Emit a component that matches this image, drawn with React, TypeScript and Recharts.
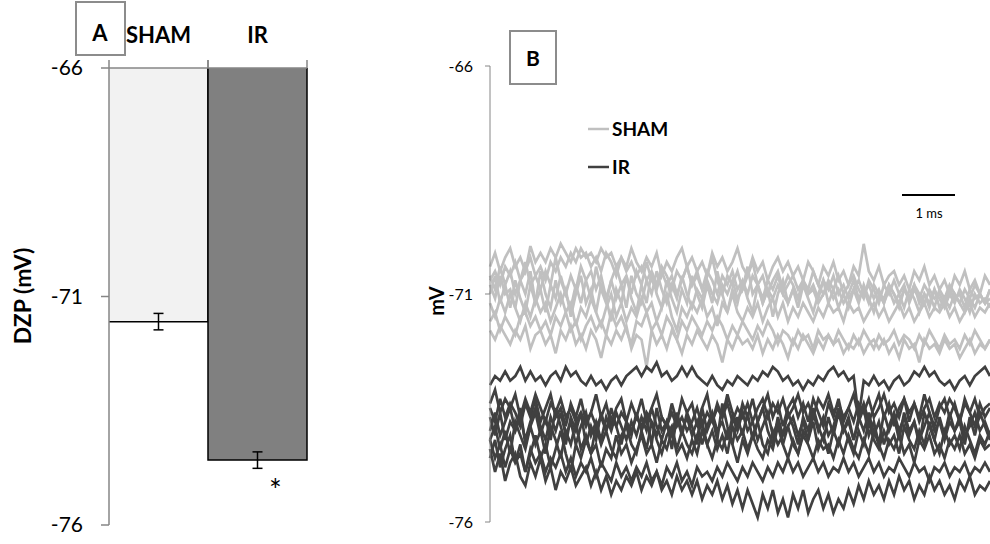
import React from "react";
import { BarChart, Bar, XAxis, YAxis, ErrorBar, LabelList, LineChart, Line } from "recharts";

// panel A: resting potential, bars hang from -66
const GROUPS = ["SHAM", "IR"];
const DZP_MEAN = [-71.55, -74.58];
const DZP_SEM = [0.18, 0.18];
const DZP_TICKS = [-76, -71, -66];

// panel B: superimposed membrane traces (mV), one sample every ~5 px
const SHAM_1 = [
  -70.4, -70.1, -70.5, -70.2, -70.0, -70.4, -70.2, -70.5, -69.95, -70.3,
  -70.1, -70.3, -70.0, -70.2, -69.9, -70.1, -70.3, -70.0, -70.2, -70.1,
  -70.4, -70.2, -70.5, -70.1, -70.3, -70.6, -70.2, -70.4, -70.0, -70.3,
  -70.5, -70.2, -70.4, -70.1, -70.6, -70.3, -70.5, -70.2, -70.0, -70.4,
  -70.2, -70.5, -70.3, -70.6, -70.1, -70.4, -70.2, -70.5, -70.3, -70.0,
  -70.4, -70.6, -70.2, -70.5, -70.3, -70.7, -70.4, -70.2, -70.5, -70.3,
  -70.6, -70.4, -70.7, -70.3, -70.5, -70.8, -70.4, -70.6, -70.3, -70.7,
  -70.5, -70.8, -70.4, -70.6, -69.9, -70.5, -70.7, -70.4, -70.8, -70.6,
  -70.5, -70.8, -70.6, -70.9, -70.5, -70.7, -70.4, -70.8, -70.6, -70.9,
  -70.7, -71.0, -70.6, -70.8, -70.5, -70.9, -70.7, -71.0, -70.6, -70.8,
];
const SHAM_2 = [
  -70.6, -70.9, -70.4, -70.8, -70.5, -71.0, -70.7, -70.3, -70.8, -70.6,
  -70.9, -70.5, -70.8, -70.2, -70.7, -71.0, -70.6, -70.9, -70.4, -70.7,
  -70.5, -70.9, -70.6, -71.1, -70.7, -70.4, -70.8, -70.6, -71.0, -70.5,
  -70.8, -70.3, -70.7, -70.9, -70.5, -70.8, -70.6, -71.0, -70.7, -70.4,
  -70.8, -70.5, -70.9, -70.6, -70.2, -70.7, -71.0, -70.6, -70.8, -70.5,
  -70.9, -70.6, -70.3, -70.8, -70.6, -71.0, -70.7, -70.5, -70.9, -70.6,
  -70.8, -71.1, -70.7, -70.9, -70.5, -70.8, -71.0, -70.7, -70.9, -70.6,
  -71.0, -70.8, -70.6, -70.9, -71.1, -70.7, -70.9, -71.2, -70.8, -71.0,
  -70.7, -71.0, -70.8, -71.2, -70.9, -71.1, -70.8, -71.0, -71.3, -70.9,
  -71.1, -70.8, -71.0, -71.2, -70.9, -71.1, -70.8, -71.0, -71.2, -70.9,
];
const SHAM_3 = [
  -71.0, -70.6, -71.2, -70.8, -71.3, -70.7, -71.1, -71.4, -70.8, -71.2,
  -70.5, -71.0, -71.3, -70.7, -71.2, -70.9, -71.5, -71.0, -70.6, -71.2,
  -70.9, -71.4, -70.8, -71.1, -71.6, -70.9, -71.2, -70.6, -71.1, -71.4,
  -70.8, -71.2, -70.5, -71.0, -71.3, -70.7, -71.1, -71.4, -70.9, -71.2,
  -70.6, -71.0, -71.3, -70.8, -71.2, -70.5, -71.0, -71.4, -70.9, -71.2,
  -70.7, -71.1, -71.4, -70.8, -71.2, -70.9, -71.5, -71.0, -70.7, -71.2,
  -70.9, -71.3, -70.8, -71.1, -71.4, -71.0, -70.7, -71.2, -70.9, -71.3,
  -71.0, -71.3, -70.9, -71.2, -70.8, -71.1, -71.4, -71.0, -71.2, -70.9,
  -71.2, -71.0, -71.3, -70.9, -71.1, -71.4, -71.0, -71.2, -70.9, -71.3,
  -71.1, -71.3, -71.0, -71.2, -71.4, -71.1, -71.3, -71.0, -71.2, -71.1,
];
const SHAM_4 = [
  -71.2, -71.5, -71.1, -71.4, -71.0, -71.3, -71.6, -71.2, -71.5, -71.1,
  -71.4, -71.2, -71.6, -71.3, -71.0, -71.4, -71.2, -71.7, -71.3, -71.5,
  -71.1, -71.4, -71.7, -71.3, -71.0, -71.5, -71.2, -71.6, -71.3, -71.5,
  -71.1, -71.4, -71.2, -71.6, -71.3, -71.0, -71.5, -71.8, -71.3, -71.5,
  -71.2, -71.4, -71.1, -71.5, -71.3, -71.7, -71.2, -71.4, -71.0, -71.4,
  -71.6, -71.3, -71.5, -71.2, -71.6, -71.3, -71.1, -71.5, -71.2, -71.6,
  -71.3, -71.5, -71.2, -71.4, -71.6, -71.3, -71.5, -71.2, -71.4, -71.3,
  -71.6, -71.2, -71.4, -71.3, -71.6, -71.4, -71.2, -71.5, -71.3, -71.6,
  -71.4, -71.2, -71.5, -71.3, -71.6, -71.4, -71.2, -71.5, -71.3, -71.4,
  -71.2, -71.5, -71.3, -71.6, -71.4, -71.2, -71.5, -71.3, -71.4, -71.2,
];
const SHAM_5 = [
  -71.6, -71.4, -71.8, -71.5, -71.7, -71.9, -71.5, -71.4, -71.7, -71.5,
  -71.8, -71.6, -71.9, -71.5, -71.7, -71.4, -71.8, -71.6, -72.0, -71.7,
  -71.5, -71.8, -71.6, -71.9, -71.4, -71.7, -71.5, -71.8, -72.1, -71.6,
  -71.7, -71.4, -71.8, -71.6, -71.9, -71.5, -71.7, -72.0, -71.6, -71.8,
  -71.5, -71.7, -71.9, -71.6, -71.8, -71.5, -71.7, -72.0, -71.7, -71.9,
  -71.6, -71.8, -72.0, -71.7, -71.9, -71.6, -71.8, -72.1, -71.8, -71.9,
  -72.1, -71.8, -72.0, -71.9, -72.2, -71.8, -72.0, -71.9, -72.1, -71.8,
  -72.0, -72.2, -71.9, -72.1, -71.8, -72.0, -72.2, -71.9, -72.1, -72.0,
  -71.8, -72.1, -71.9, -72.0, -72.2, -71.9, -72.1, -71.8, -72.0, -72.2,
  -71.9, -72.1, -72.0, -72.2, -71.9, -72.1, -71.8, -72.0, -72.2, -72.0,
];
const SHAM_6 = [
  -71.8, -72.0, -71.7, -71.9, -72.1, -71.8, -72.0, -71.7, -72.2, -71.9,
  -71.8, -72.1, -71.9, -72.3, -71.8, -72.0, -71.7, -72.1, -71.9, -72.2,
  -71.8, -72.0, -72.4, -71.9, -72.1, -71.8, -72.0, -71.7, -72.2, -71.9,
  -72.0, -72.6, -71.8, -72.1, -71.9, -72.2, -71.8, -72.0, -72.3, -71.9,
  -72.1, -71.8, -72.0, -72.2, -71.9, -72.1, -72.5, -72.0, -72.2, -71.9,
  -72.1, -72.0, -72.2, -71.9, -72.3, -72.0, -72.2, -71.9, -72.1, -72.4,
  -72.0, -72.2, -71.9, -72.1, -72.3, -72.0, -72.2, -71.9, -72.1, -72.0,
  -72.3, -72.1, -72.2, -72.0, -72.3, -72.1, -72.0, -72.2, -72.0, -72.3,
  -72.1, -72.4, -72.0, -72.2, -72.1, -72.5, -72.0, -72.2, -72.1, -72.3,
  -72.0, -72.2, -72.1, -72.4, -72.2, -72.0, -72.3, -72.1, -72.2, -72.0,
];
const SHAM_7 = [
  -70.8, -71.1, -70.6, -71.0, -70.9, -71.3, -70.7, -71.0, -70.5, -71.2,
  -70.9, -71.4, -70.8, -71.1, -70.6, -71.0, -71.3, -70.8, -71.2, -70.7,
  -71.1, -70.4, -70.9, -71.2, -70.7, -71.1, -70.8, -71.3, -70.6, -71.0,
  -71.2, -70.7, -71.0, -70.5, -70.9, -71.2, -70.8, -71.1, -70.6, -71.0,
  -71.3, -70.9, -71.1, -70.7, -71.0, -71.2, -70.8, -71.0, -70.7, -71.1,
  -70.9, -70.4, -71.0, -70.8, -71.2, -70.9, -71.1, -70.8, -71.0, -71.2,
  -70.9, -71.1, -70.8, -71.0, -70.9, -71.2, -71.0, -70.8, -71.1, -70.9,
  -71.2, -71.0, -70.7, -71.1, -70.9, -71.2, -70.8, -71.0, -71.1, -70.8,
  -71.0, -71.2, -70.9, -71.1, -70.8, -71.0, -71.2, -70.9, -71.1, -71.0,
  -71.2, -70.9, -71.1, -71.0, -71.3, -70.9, -71.1, -71.0, -71.2, -70.9,
];
const SHAM_8 = [
  -70.7, -70.5, -70.8, -70.4, -70.6, -70.3, -70.7, -70.5, -70.2, -70.6,
  -70.4, -70.7, -70.3, -70.5, -70.2, -70.4, -70.1, -70.3, -70.0, -70.2,
  -70.1, -70.3, -70.0, -70.2, -70.1, -70.4, -70.2, -70.5, -70.3, -70.6,
  -70.4, -70.7, -70.5, -70.8, -70.4, -70.6, -70.9, -70.5, -70.7, -70.4,
  -70.8, -70.6, -70.9, -70.5, -70.7, -71.0, -70.6, -70.8, -70.5, -70.9,
  -70.7, -71.0, -70.6, -70.8, -71.1, -70.7, -70.9, -70.6, -71.0, -70.8,
  -70.6, -70.9, -70.7, -71.0, -70.8, -71.1, -70.7, -70.9, -70.6, -71.0,
  -70.8, -71.1, -70.9, -70.7, -71.0, -70.8, -71.1, -70.9, -71.2, -70.8,
  -71.0, -71.3, -70.9, -71.1, -70.8, -71.2, -71.0, -71.3, -70.9, -71.1,
  -71.3, -71.0, -71.2, -70.9, -71.1, -71.4, -71.0, -71.2, -71.1, -71.3,
];

const IR_1 = [
  -73.0, -72.8, -72.9, -72.7, -72.9, -72.8, -72.6, -72.9, -72.7, -72.9,
  -72.8, -73.0, -72.8, -72.7, -72.9, -72.6, -72.8, -72.7, -72.9, -73.0,
  -72.8, -73.0, -72.9, -73.1, -72.9, -72.8, -73.0, -72.8, -72.7, -72.6,
  -72.8, -72.6, -72.7, -72.5, -72.8, -72.7, -72.9, -72.8, -72.6, -72.8,
  -72.6, -72.8, -72.9, -73.0, -72.8, -73.0, -73.1, -72.9, -73.0, -72.8,
  -72.9, -73.0, -72.8, -72.9, -72.7, -72.8, -72.6, -72.7, -72.9, -72.8,
  -73.0, -72.9, -73.1, -72.9, -73.0, -72.8, -72.9, -72.7, -72.6, -72.8,
  -72.7, -72.9, -72.8, -73.7, -72.9, -73.0, -72.8, -73.0, -72.9, -73.1,
  -72.9, -72.8, -73.0, -72.9, -72.7, -72.8, -72.6, -72.8, -72.7, -72.9,
  -73.0, -72.9, -73.1, -72.9, -72.8, -73.0, -72.8, -72.7, -72.6, -72.8,
];
const IR_2 = [
  -73.5, -73.8, -73.3, -73.7, -73.4, -73.6, -73.9, -73.4, -73.7, -73.3,
  -73.8, -73.5, -73.2, -73.7, -73.5, -73.9, -73.4, -73.7, -73.3, -73.8,
  -73.6, -73.2, -73.7, -73.4, -73.9, -73.5, -73.3, -73.8, -73.4, -73.7,
  -73.3, -73.8, -73.5, -73.2, -73.7, -73.9, -73.4, -73.8, -73.3, -73.6,
  -73.4, -73.9, -73.5, -73.2, -73.8, -73.4, -73.7, -73.2, -73.6, -73.9,
  -73.4, -73.7, -73.3, -73.8, -73.5, -73.2, -73.7, -73.4, -73.9, -73.5,
  -73.3, -73.7, -73.4, -73.8, -73.3, -73.6, -73.9, -73.4, -73.7, -73.3,
  -73.8, -73.5, -73.2, -73.7, -73.4, -73.8, -73.5, -73.2, -73.7, -73.4,
  -73.9, -73.5, -73.3, -73.8, -73.4, -73.7, -73.2, -73.6, -73.9, -73.5,
  -73.3, -73.7, -73.4, -73.8, -73.3, -73.6, -73.9, -73.4, -73.7, -73.5,
];
const IR_3 = [
  -73.7, -74.1, -73.6, -74.2, -73.8, -74.0, -73.5, -74.3, -73.9, -73.6,
  -74.1, -73.7, -74.2, -73.5, -73.9, -74.3, -73.7, -74.0, -73.6, -74.3,
  -73.9, -74.2, -73.6, -74.0, -73.5, -73.9, -74.3, -73.8, -74.1, -73.6,
  -74.0, -73.7, -74.3, -73.5, -74.0, -73.8, -74.4, -73.7, -74.1, -73.6,
  -73.9, -74.3, -73.5, -74.0, -73.7, -74.2, -73.4, -73.9, -74.3, -73.7,
  -74.1, -73.6, -74.2, -73.8, -73.5, -74.0, -74.3, -73.7, -74.1, -73.6,
  -73.9, -74.3, -73.7, -74.0, -73.5, -73.9, -74.2, -73.7, -74.1, -73.6,
  -74.0, -73.7, -74.2, -73.8, -73.5, -74.1, -73.8, -74.3, -73.6, -74.0,
  -73.7, -74.2, -73.6, -74.0, -73.8, -74.3, -73.6, -73.9, -74.2, -73.7,
  -74.1, -73.6, -74.0, -73.8, -74.3, -73.7, -74.1, -73.6, -73.9, -74.2,
];
const IR_4 = [
  -74.2, -73.9, -74.4, -74.0, -74.5, -73.8, -74.1, -74.4, -73.9, -74.3,
  -74.0, -74.5, -73.9, -74.2, -74.6, -74.0, -74.3, -73.8, -74.4, -74.1,
  -74.5, -73.9, -74.3, -74.0, -74.4, -74.6, -74.1, -73.9, -74.3, -74.5,
  -74.0, -74.4, -73.8, -74.2, -74.5, -74.1, -73.9, -74.4, -74.0, -74.3,
  -74.5, -74.1, -73.8, -74.3, -74.0, -74.4, -74.1, -74.5, -73.9, -74.2,
  -74.0, -74.4, -74.1, -73.8, -74.3, -74.5, -74.0, -74.3, -74.1, -73.9,
  -74.3, -74.5, -74.0, -74.2, -73.8, -74.4, -74.1, -74.5, -74.0, -74.3,
  -73.9, -74.2, -74.5, -74.0, -74.3, -73.8, -74.2, -74.4, -74.0, -74.3,
  -74.1, -74.5, -73.9, -74.2, -74.4, -74.0, -74.3, -73.8, -74.2, -74.5,
  -74.0, -74.3, -74.1, -74.4, -73.9, -74.2, -74.5, -74.1, -74.3, -74.0,
];
const IR_5 = [
  -74.6, -74.2, -74.8, -74.4, -74.1, -74.7, -74.3, -74.9, -74.5, -74.1,
  -74.6, -74.3, -74.8, -74.4, -74.0, -74.5, -74.9, -74.3, -74.6, -74.2,
  -74.5, -74.3, -74.8, -74.4, -74.6, -74.1, -74.5, -74.3, -74.7, -74.4,
  -74.1, -74.5, -74.3, -74.7, -74.2, -74.4, -74.0, -74.5, -74.3, -74.6,
  -74.2, -74.5, -74.0, -74.3, -74.6, -74.2, -74.4, -74.0, -74.3, -74.7,
  -74.2, -74.5, -74.1, -74.4, -74.6, -74.2, -74.4, -73.9, -74.3, -74.6,
  -74.2, -74.5, -74.1, -74.3, -74.6, -74.2, -74.4, -74.3, -74.6, -74.2,
  -74.5, -74.1, -74.4, -74.6, -74.2, -74.5, -74.0, -74.3, -74.6, -74.2,
  -74.4, -74.1, -74.5, -74.3, -74.7, -74.2, -74.4, -74.1, -74.5, -74.3,
  -74.6, -74.2, -74.4, -74.1, -74.5, -74.3, -74.6, -74.2, -74.4, -74.3,
];
const IR_6 = [
  -73.4, -73.1, -73.6, -73.3, -73.5, -73.2, -73.7, -73.3, -73.6, -73.2,
  -73.5, -73.8, -73.4, -73.6, -73.3, -73.7, -73.5, -73.8, -73.6, -73.9,
  -73.6, -73.9, -73.7, -74.0, -73.7, -73.9, -73.6, -73.8, -74.0, -73.7,
  -73.9, -73.6, -73.8, -74.1, -73.7, -73.9, -73.6, -73.9, -73.7, -74.0,
  -73.8, -73.5, -73.9, -73.6, -73.8, -73.5, -73.7, -73.4, -73.8, -73.5,
  -73.7, -73.4, -73.8, -73.5, -73.3, -73.7, -73.4, -73.6, -73.3, -73.7,
  -73.5, -73.2, -73.6, -73.4, -73.7, -73.3, -73.5, -73.2, -73.6, -73.4,
  -73.7, -73.5, -73.8, -73.4, -73.6, -73.3, -73.7, -73.5, -73.2, -73.6,
  -73.4, -73.7, -73.3, -73.6, -73.4, -73.8, -73.5, -73.3, -73.7, -73.4,
  -73.6, -73.3, -73.5, -73.8, -73.4, -73.6, -73.3, -73.7, -73.5, -73.4,
];
const IR_7 = [
  -74.2, -74.6, -74.3, -74.8, -74.4, -74.7, -74.5, -74.9, -74.4, -74.7,
  -74.5, -74.9, -74.6, -74.8, -74.5, -74.9, -74.6, -75.0, -74.7, -74.9,
  -74.6, -75.0, -74.7, -74.9, -75.1, -74.7, -75.0, -74.8, -75.1, -74.8,
  -75.0, -74.7, -75.1, -74.9, -75.2, -74.8, -75.0, -74.7, -75.1, -74.9,
  -75.2, -74.8, -75.0, -74.9, -75.1, -74.8, -75.0, -74.7, -74.9, -75.1,
  -74.8, -75.0, -74.7, -74.9, -75.1, -74.8, -75.0, -74.7, -74.9, -74.6,
  -74.9, -74.7, -75.0, -74.8, -74.6, -74.9, -74.7, -75.0, -74.8, -74.9,
  -74.6, -74.9, -74.7, -75.0, -74.8, -74.6, -74.9, -74.7, -75.0, -74.8,
  -74.9, -74.6, -74.8, -75.0, -74.7, -74.9, -74.8, -75.1, -74.8, -74.9,
  -74.7, -75.0, -74.8, -74.9, -74.7, -75.0, -74.8, -74.9, -74.7, -74.9,
];
const IR_8 = [
  -74.4, -74.9, -74.5, -75.1, -74.7, -74.5, -75.0, -75.2, -74.7, -75.0,
  -74.6, -75.1, -74.8, -75.3, -74.9, -75.1, -74.8, -75.2, -75.0, -74.8,
  -75.2, -74.9, -75.3, -75.0, -75.4, -75.1, -75.3, -75.0, -75.2, -74.9,
  -75.3, -75.0, -75.2, -74.9, -75.3, -75.1, -75.4, -75.0, -75.3, -75.1,
  -75.4, -75.1, -75.5, -75.2, -75.4, -75.1, -75.5, -75.2, -75.6, -75.3,
  -75.7, -75.3, -75.6, -75.9, -75.4, -75.7, -75.3, -75.8, -75.5, -75.9,
  -75.4, -75.7, -75.3, -75.8, -75.5, -75.3, -75.7, -75.4, -75.8, -75.5,
  -75.7, -75.3, -75.6, -75.2, -75.5, -75.1, -75.4, -75.2, -75.5, -75.1,
  -75.4, -75.0, -75.3, -75.1, -75.5, -75.2, -75.4, -75.0, -75.3, -75.1,
  -75.4, -75.2, -75.5, -75.1, -75.3, -75.0, -75.4, -75.2, -75.3, -75.1,
];
const IR_9 = [
  -74.0, -73.6, -74.1, -73.8, -73.5, -74.0, -73.7, -74.2, -73.8, -73.5,
  -73.9, -74.2, -73.7, -74.0, -73.6, -74.1, -73.8, -74.3, -73.9, -73.6,
  -74.1, -73.8, -74.2, -73.7, -74.0, -73.6, -73.9, -74.2, -73.8, -74.1,
  -73.7, -74.0, -73.5, -73.9, -74.2, -73.8, -74.1, -73.6, -74.0, -73.7,
  -74.1, -73.8, -74.3, -73.9, -73.6, -74.0, -73.8, -74.2, -73.7, -74.0,
  -73.6, -74.0, -73.8, -74.2, -73.9, -73.6, -74.1, -73.8, -74.3, -73.9,
  -73.7, -74.1, -73.8, -74.2, -73.6, -74.0, -73.7, -74.1, -73.9, -73.5,
  -74.0, -73.8, -74.2, -73.7, -74.0, -73.6, -74.1, -73.8, -74.3, -73.9,
  -73.6, -74.0, -73.7, -74.1, -73.8, -74.2, -73.9, -73.6, -74.0, -73.8,
  -74.2, -73.8, -74.0, -73.7, -74.1, -73.9, -73.6, -74.0, -73.8, -74.1,
];

const SHAM_TRACES = [SHAM_1, SHAM_2, SHAM_3, SHAM_4, SHAM_5, SHAM_6, SHAM_7, SHAM_8];
const IR_TRACES = [IR_1, IR_2, IR_3, IR_4, IR_5, IR_6, IR_7, IR_8, IR_9];
const TRACE_TICKS = [-76, -71, -66];

const SHAM_COLOR = "#c0c0c0";
const IR_COLOR = "#404040";
const AXIS_COLOR = "#868686";
const FONT = "Lato, 'Open Sans', sans-serif";
const BAND = 99;
const AXIS_TOP = 68;

const barData = GROUPS.map((g, i) => ({ name: g, value: DZP_MEAN[i], err: DZP_SEM[i] }));
const BAR_FILLS = ["#f2f2f2", "#808080"];

const traceData = SHAM_1.map((_, i) => {
  const row: Record<string, number> = { t: i };
  SHAM_TRACES.forEach((tr, k) => (row[`s${k}`] = tr[i]));
  IR_TRACES.forEach((tr, k) => (row[`r${k}`] = tr[i]));
  return row;
});

// category label above the axis + Excel-style marks on the band edges
function GroupTick({ x, payload }: any) {
  return (
    <g>
      <text x={x} y={43} textAnchor="middle" fontFamily={FONT} fontWeight={700} fontSize={22} fill="#000">
        {payload.value}
      </text>
      <line x1={x - BAND / 2} x2={x - BAND / 2} y1={AXIS_TOP - 8} y2={AXIS_TOP} stroke={AXIS_COLOR} strokeWidth={1.5} />
      <line x1={x + BAND / 2} x2={x + BAND / 2} y1={AXIS_TOP - 8} y2={AXIS_TOP} stroke={AXIS_COLOR} strokeWidth={1.5} />
    </g>
  );
}

function HangingBar(props: any) {
  const { x, y, width, height, index } = props;
  const top = Math.min(y, y + height);
  const bottom = Math.max(y, y + height);
  const left = x;
  const right = x + width;
  const edge = index === 0
    ? `M${right},${top} V${bottom} H${left}`
    : `M${left},${top} V${bottom} H${right} V${top}`;
  return (
    <g>
      <rect x={left} y={top} width={width} height={bottom - top} fill={BAR_FILLS[index]} />
      <path d={edge} fill="none" stroke="#000" strokeWidth={1.5} />
    </g>
  );
}

function StarLabel(props: any) {
  const { x, y, width, height, index } = props;
  if (index !== 1) return null;
  const bottom = Math.max(y, y + height);
  return (
    <text x={x + width * 0.68} y={bottom + 41} textAnchor="middle" fontFamily={FONT} fontSize={30} fill="#000">
      *
    </text>
  );
}

export default function App() {
  const tickA = { fontSize: 21, fill: "#000", fontFamily: FONT };
  const tickB = { fontSize: 16, fill: "#000", fontFamily: FONT };
  return (
    <div style={{ position: "fixed", left: 0, top: 0, width: 990, height: 544, overflow: "hidden", background: "#fff" }}>
      <div style={{ position: "absolute", left: 0, top: 0 }}>
        <BarChart width={340} height={544} data={barData} barCategoryGap={0}
          margin={{ top: 28, right: 33, bottom: 19, left: 49 }}>
          <XAxis dataKey="name" orientation="top" height={40} tickLine={false}
            axisLine={{ stroke: AXIS_COLOR, strokeWidth: 1.5 }} tick={<GroupTick />} interval={0} />
          <YAxis width={60} domain={[-76, -66]} ticks={DZP_TICKS} allowDataOverflow tickSize={8} tickMargin={18}
            axisLine={{ stroke: AXIS_COLOR, strokeWidth: 1.5 }} tickLine={{ stroke: AXIS_COLOR, strokeWidth: 1.5 }}
            tick={tickA} />
          <Bar dataKey="value" shape={<HangingBar />} isAnimationActive={false}>
            <ErrorBar dataKey="err" width={5} stroke="#000" strokeWidth={1.5} />
            <LabelList dataKey="value" content={<StarLabel />} />
          </Bar>
        </BarChart>
      </div>

      <div style={{ position: "absolute", left: 400, top: 0 }}>
        <LineChart width={590} height={544} data={traceData} margin={{ top: 66, right: 0, bottom: 22, left: 0 }}>
          <XAxis dataKey="t" type="number" domain={[0, SHAM_1.length - 1]} hide />
          <YAxis width={90} domain={[-76, -66]} ticks={TRACE_TICKS} allowDataOverflow tickSize={5} tickMargin={12}
            axisLine={{ stroke: AXIS_COLOR }} tickLine={{ stroke: AXIS_COLOR }} tick={tickB} />
          {SHAM_TRACES.map((_, k) => (
            <Line key={`s${k}`} dataKey={`s${k}`} stroke={SHAM_COLOR} strokeWidth={2.7} dot={false}
              isAnimationActive={false} />
          ))}
          {IR_TRACES.map((_, k) => (
            <Line key={`r${k}`} dataKey={`r${k}`} stroke={IR_COLOR} strokeWidth={2.7} dot={false}
              isAnimationActive={false} />
          ))}
        </LineChart>
      </div>

      <svg width={990} height={544} style={{ position: "absolute", left: 0, top: 0, pointerEvents: "none" }}>
        <rect x={76} y={2} width={49} height={53} fill="none" stroke="#8c8c8c" strokeWidth={2} />
        <text x={100} y={41} textAnchor="middle" fontFamily={FONT} fontWeight={700} fontSize={22}>A</text>
        <text transform="translate(31,296) rotate(-90)" textAnchor="middle" fontFamily={FONT} fontWeight={700} fontSize={23}>
          DZP (mV)
        </text>

        <rect x={510} y={31} width={46} height={53} fill="none" stroke="#8c8c8c" strokeWidth={2} />
        <text x={533} y={66} textAnchor="middle" fontFamily={FONT} fontWeight={700} fontSize={21}>B</text>
        <text transform="translate(444,301) rotate(-90)" textAnchor="middle" fontFamily={FONT} fontWeight={700} fontSize={20}>
          mV
        </text>

        <line x1={588} x2={609} y1={129} y2={129} stroke={SHAM_COLOR} strokeWidth={2.5} />
        <text x={612} y={136} fontFamily={FONT} fontWeight={700} fontSize={19}>SHAM</text>
        <line x1={588} x2={609} y1={167} y2={167} stroke={IR_COLOR} strokeWidth={2.5} />
        <text x={612} y={174} fontFamily={FONT} fontWeight={700} fontSize={19}>IR</text>

        <line x1={902} x2={955} y1={195} y2={195} stroke="#000" strokeWidth={2} />
        <text x={929} y={218} textAnchor="middle" fontFamily={FONT} fontSize={13}>1 ms</text>
      </svg>
    </div>
  );
}
